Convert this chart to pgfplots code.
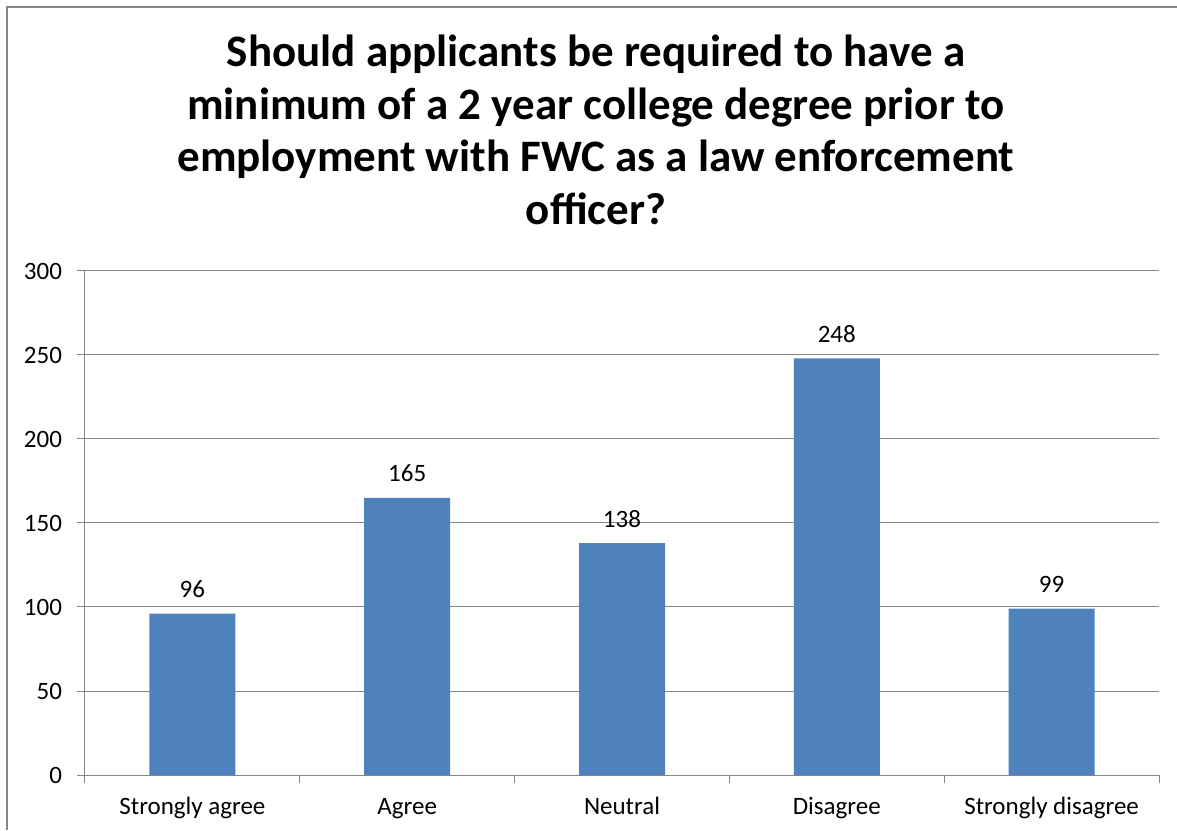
\documentclass[border=0pt]{standalone}
\usepackage{pgfplots}
\pgfplotsset{compat=1.18}
\usepackage{fontspec}
\setmainfont{Carlito}
\definecolor{barblue}{HTML}{4F81BD}
\definecolor{axgray}{HTML}{868686}
\begin{document}
\begin{tikzpicture}
\path[use as bounding box] (-42.5pt,-27.5pt) rectangle (546pt,387.5pt);
\draw[axgray, line width=1pt] (-39pt,-27.5pt) -- (-39pt,384pt) -- (546pt,384pt);
\begin{scope}[font=\bfseries\fontsize{22.5}{26}\selectfont]
\node[anchor=base, inner sep=0pt] at (255.5pt,354.2pt) {Should applicants be required to have a};
\node[anchor=base, inner sep=0pt] at (255.5pt,327.9pt) {minimum of a 2 year college degree prior to};
\node[anchor=base, inner sep=0pt] at (255.5pt,301.5pt) {employment with FWC as a law enforcement};
\node[anchor=base, inner sep=0pt] at (255.5pt,275pt) {officer?};
\end{scope}
\begin{axis}[
  scale only axis,
  width=537pt, height=252pt,
  xmin=-0.5, xmax=4.5, ymin=0, ymax=300,
  enlargelimits=false,
  ybar, bar width=43pt,
  axis x line*=bottom, axis y line*=left,
  axis line style={axgray, line width=0.5pt, -},
  xtick={0,1,2,3,4},
  xticklabels={Strongly agree,Agree,Neutral,Disagree,Strongly disagree},
  major x tick style={draw=none},
  minor xtick={-0.5,0.5,1.5,2.5,3.5,4.5},
  minor tick length=4pt,
  minor x tick style={axgray, line width=0.5pt},
  ytick={0,50,100,150,200,250,300},
  major tick length=4pt,
  tick align=outside,
  major y tick style={axgray, line width=0.5pt},
  ymajorgrids,
  grid style={axgray, line width=0.5pt},
  /pgf/number format/assume math mode=true,
  tick label style={font=\fontsize{12.5}{15}\selectfont, text=black},
  xticklabel style={anchor=base, yshift=-15.5pt},
  yticklabel style={anchor=east, xshift=-4pt},
  nodes near coords,
  every node near coord/.append style={font=\fontsize{12.5}{15}\selectfont, text=black, anchor=base, yshift=8pt, /pgf/number format/assume math mode=true},
]
\addplot[fill=barblue, draw=none] coordinates {(0,96) (1,165) (2,138) (3,248) (4,99)};
\end{axis}
\end{tikzpicture}
\end{document}
